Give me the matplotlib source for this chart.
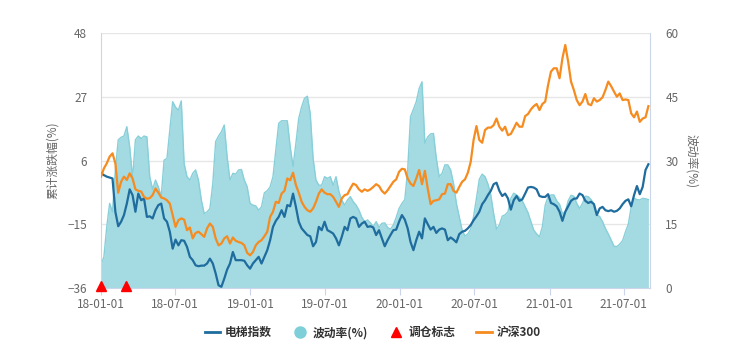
import matplotlib
matplotlib.use('Agg')
import matplotlib.pyplot as plt
import matplotlib.dates as mdates
from matplotlib.lines import Line2D
import pandas as pd

plt.rcParams['font.family'] = ['Noto Sans CJK SC', 'DejaVu Sans']

# weekly series, starting 2018-01-01
elevator = [1.8, 1.2, 0.7, 0.4, 0.1, -10.9, -15.7, -14.2, -12.0, -8.2,
            -3.5, -5.4, -10.9, -4.9, -7.1, -6.5, -12.6, -12.4, -13.1, -10.4,
            -8.7, -8.2, -13.1, -14.2, -17.5, -23.1, -20.1, -22.0, -20.3, -20.5,
            -22.5, -25.8, -26.9, -28.6, -28.9, -28.7, -28.7, -28.0, -26.4, -28.0,
            -31.3, -35.2, -35.7, -33.0, -30.0, -28.0, -24.2,
            -26.9, -26.9, -26.9, -27.1, -28.6, -29.7, -28.0, -26.9, -25.8, -28.0,
            -25.8, -23.6, -20.3, -15.9, -13.9, -12.6, -10.4, -12.6, -8.7, -9.1,
            -4.9, -9.3, -14.2, -16.4, -17.5, -18.6, -19.0, -22.3, -20.9, -15.9,
            -17.0, -14.2, -17.0, -17.5, -18.1, -19.7, -22.0, -19.2, -15.9, -17.0,
            -13.1, -12.6, -13.1, -15.9, -14.8, -14.2, -15.9,
            -15.7, -16.1, -18.6, -17.0, -19.7, -22.3, -20.3, -18.6, -17.0, -16.8,
            -14.2, -12.0, -13.5, -16.4, -20.9, -23.6, -20.3, -17.5, -19.7, -13.1,
            -15.0, -16.8, -15.9, -17.9, -16.8, -16.4, -16.8, -20.3, -19.4, -20.1,
            -21.0, -18.3, -17.5, -17.2, -16.4, -15.3, -13.7, -12.4, -10.9, -8.4,
            -7.1, -5.4, -4.0, -1.8, -1.3, -4.0, -5.7, -4.9,
            -6.5, -10.2, -7.1, -5.7, -7.3, -6.8, -4.9, -2.9, -2.7, -2.9,
            -3.5, -5.7, -6.0, -6.0, -5.1, -8.0, -8.4, -9.1, -10.9, -13.9,
            -10.9, -9.1, -7.3, -6.6, -6.5, -4.9, -5.4, -7.3, -8.0, -7.6,
            -8.4, -12.0, -9.8, -9.3, -10.4, -10.7, -10.4, -10.9, -10.6, -9.8,
            -8.4, -7.3, -6.8, -9.1, -5.4, -2.4, -5.1, -2.7, 2.9, 4.8]

hs300 = [0.7, 3.4, 5.1, 7.3, 8.4, 5.1, -4.6, -1.0, 0.7, -0.4,
         1.8, 0.1, -3.5, -4.0, -4.2, -6.0, -6.6, -6.4, -5.4, -3.2,
         -4.6, -6.2, -6.5, -7.1, -8.2, -12.0, -15.9, -13.7, -13.1, -13.5,
         -17.0, -16.1, -19.7, -17.9, -17.5, -18.3, -19.2, -16.4, -14.8, -15.9,
         -19.7, -22.0, -21.4, -19.7, -19.0, -21.4, -19.4,
         -20.5, -20.9, -21.2, -22.0, -24.5, -25.3, -24.2, -22.0, -20.9, -20.3,
         -19.0, -17.5, -12.6, -10.9, -7.6, -8.0, -4.9, -4.0, 0.1, -0.5,
         2.0, -2.1, -4.6, -7.6, -9.3, -10.4, -10.9, -9.8, -7.6, -4.9,
         -3.5, -4.6, -5.1, -5.1, -6.0, -7.6, -9.3, -6.5, -5.4, -5.1,
         -3.2, -1.6, -2.1, -3.5, -4.3, -3.5, -4.0,
         -3.5, -2.7, -1.8, -2.4, -4.0, -4.9, -3.8, -2.4, -1.0, -0.2,
         2.3, 3.3, 3.1, 0.1, -1.6, -2.4, 0.1, 2.9, -1.8, 2.6,
         -3.2, -8.4, -7.3, -7.1, -6.8, -5.1, -4.9, -1.8, -1.8, -4.0,
         -4.6, -2.7, -1.0, -0.2, 2.0, 5.6, 12.8, 17.4, 12.8, 11.9,
         16.1, 16.9, 16.9, 17.7, 19.9, 17.2, 15.9, 17.2,
         14.4, 14.8, 16.6, 18.5, 17.2, 17.2, 20.7, 21.4, 22.9, 24.0,
         24.7, 22.7, 24.7, 25.5, 31.0, 35.4, 36.5, 36.5, 33.2, 39.8,
         44.2, 38.7, 32.1, 29.3, 26.0, 24.3, 25.5, 28.0, 24.7, 24.3,
         26.6, 25.5, 26.0, 26.9, 29.3, 32.1, 30.6, 28.8, 27.1, 28.2,
         26.0, 26.2, 26.0, 21.6, 20.3, 22.2, 18.8, 19.9, 20.3, 24.0]

volatility = [5.4, 7.3, 14.4, 19.9, 17.9, 27.8, 34.9, 35.5, 35.8, 38.0,
              33.3, 25.8, 34.9, 35.8, 35.2, 35.8, 35.6, 26.2, 23.2, 25.4,
              23.8, 21.5, 30.1, 30.5, 37.2, 43.9, 42.6, 41.9, 44.1, 29.3,
              26.2, 25.4, 27.0, 27.8, 25.4, 20.7, 17.5, 17.9, 18.7, 24.6,
              34.5, 35.8, 36.8, 38.4, 30.9, 25.4, 27.0,
              26.8, 27.8, 27.9, 25.4, 23.8, 19.9, 19.5, 19.3, 18.3, 19.1,
              22.4, 22.9, 23.8, 26.2, 32.5, 38.8, 39.4, 39.4, 39.4, 33.3,
              28.6, 34.1, 40.0, 42.7, 44.7, 45.2, 41.1, 30.5, 25.4, 24.2,
              24.2, 26.2, 25.8, 26.2, 24.2, 26.2, 22.7, 20.7, 19.5, 20.7,
              21.5, 20.3, 19.5, 18.3, 16.6, 15.6, 16.0,
              15.3, 14.4, 15.6, 14.2, 15.2, 15.3, 14.2, 13.8, 14.8, 16.6,
              18.7, 19.9, 20.8, 27.8, 40.4, 42.1, 43.9, 47.0, 48.6, 34.1,
              35.6, 36.3, 36.4, 30.5, 26.2, 27.0, 29.0, 29.0, 27.8, 24.6,
              19.9, 16.8, 13.6, 12.2, 12.7, 13.8, 16.8, 21.1, 25.6, 26.8,
              26.2, 24.5, 21.9, 17.5, 13.8, 14.8, 16.9, 17.2,
              17.9, 21.1, 22.3, 21.9, 21.3, 20.5, 19.1, 17.7, 15.6, 13.6,
              12.7, 12.0, 14.4, 19.5, 21.5, 21.9, 21.9, 20.5, 19.7, 17.5,
              17.9, 20.5, 21.8, 21.6, 19.9, 18.7, 19.9, 21.6, 21.5, 20.8,
              19.7, 17.2, 16.8, 15.6, 14.0, 12.7, 11.3, 9.8, 9.7, 10.3,
              11.1, 13.2, 15.0, 19.1, 21.1, 20.8, 20.7, 21.1, 21.0, 20.8]

flag_dates = ['2018-01-01', '2018-03-02']
left_ticks = [-36, -15, 6, 27, 48]
right_ticks = [0, 15, 30, 45, 60]
x_ticks = ['2018-01-01', '2018-07-01', '2019-01-01', '2019-07-01',
           '2020-01-01', '2020-07-01', '2021-01-01', '2021-07-01']

dates = pd.date_range('2018-01-01', periods=len(elevator), freq='7D')

BLUE = '#1f6c9e'
ORANGE = '#f68b1f'
TEAL = '#a4dae1'
TEAL_EDGE = '#87cfd9'
AXIS = '#ccd6eb'
GRID = '#e6e6e6'
LABEL = '#666666'

fig = plt.figure(figsize=(7.38, 3.51), dpi=100)
ax = fig.add_axes([0.1369, 0.1803, 0.7439, 0.7243])
ax2 = ax.twinx()
ax.set_zorder(ax2.get_zorder() + 1)
ax.patch.set_visible(False)

# volatility area on right axis
ax2.fill_between(dates, 0, volatility, color=TEAL, linewidth=0, zorder=2)
ax2.plot(dates, volatility, color=TEAL_EDGE, linewidth=1, zorder=3)
ax2.set_ylim(0, 60)
ax2.set_yticks(right_ticks)
ax2.set_axisbelow(True)
ax2.yaxis.grid(True, color=GRID, linewidth=1)

ax.plot(dates, elevator, color=BLUE, linewidth=1.6, zorder=4)
ax.plot(dates, hs300, color=ORANGE, linewidth=1.6, zorder=4)
ax.plot(pd.to_datetime(flag_dates), [-35.4] * len(flag_dates), linestyle='none',
        marker='^', markersize=7, color='#ff0000', clip_on=False, zorder=6)

ax.set_ylim(-36, 48)
ax.set_yticks(left_ticks)
ax.set_xlim(pd.Timestamp('2018-01-01'), pd.Timestamp('2021-09-03'))
ax.set_xticks(pd.to_datetime(x_ticks))
ax.xaxis.set_major_formatter(mdates.DateFormatter('%y-%m-%d'))

for a in (ax, ax2):
    for side in ('top', 'left', 'right', 'bottom'):
        a.spines[side].set_visible(False)
ax.spines['left'].set_visible(True)
ax.spines['left'].set_color(AXIS)
ax.spines['bottom'].set_visible(True)
ax.spines['bottom'].set_color(AXIS)
ax2.spines['right'].set_visible(True)
ax2.spines['right'].set_color(AXIS)

ax.tick_params(axis='y', length=0, pad=10, labelsize=8.5, labelcolor=LABEL)
ax2.tick_params(axis='y', length=0, pad=11, labelsize=8.5, labelcolor=LABEL)
ax.tick_params(axis='x', length=5, color=AXIS, pad=2.5, labelsize=8.5, labelcolor=LABEL)

ax.set_ylabel('累计涨跌幅(%)', fontsize=8.5, color=LABEL)
ax.yaxis.set_label_coords(-0.077, 0.5)
ax2.set_ylabel('波动率(%)', fontsize=8.5, color=LABEL, rotation=270)
ax2.yaxis.set_label_coords(1.088, 0.5)

handles = [
    Line2D([], [], color=BLUE, linewidth=2),
    Line2D([], [], linestyle='none', marker='o', markersize=8, color='#7fcfd9'),
    Line2D([], [], linestyle='none', marker='^', markersize=7.5, color='#ff0000'),
    Line2D([], [], color=ORANGE, linewidth=2),
]
labels = ['电梯指数', '波动率(%)', '调仓标志', '沪深300']
fig.legend(handles, labels, loc='center', bbox_to_anchor=(0.505, 0.052), ncol=4,
           frameon=False, handlelength=1.3, handletextpad=0.4, columnspacing=1.75,
           prop={'size': 8.5, 'weight': 'bold'}, labelcolor='#333333')

fig.savefig('out.png', dpi=100)
